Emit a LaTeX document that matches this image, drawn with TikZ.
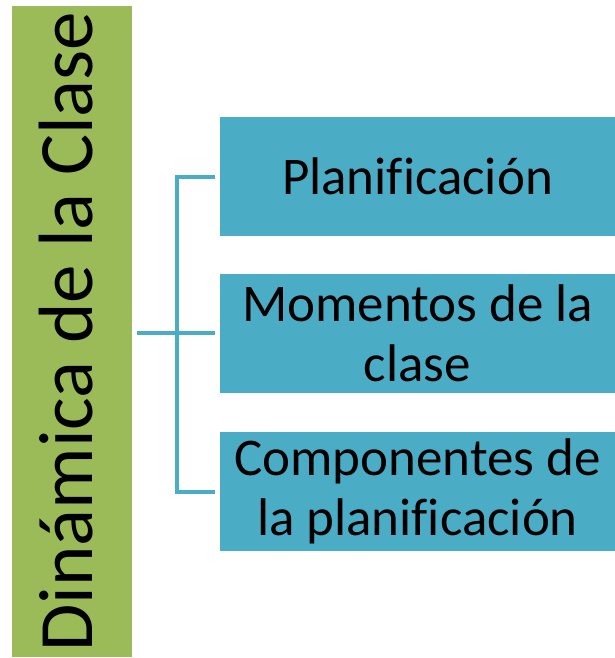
\documentclass[tikz,border=0pt]{standalone}
\usepackage{fontspec}
\setmainfont{Carlito}[Ligatures=NoCommon]
\usepackage{xcolor}
\definecolor{dynGreen}{HTML}{9BBB59}
\definecolor{dynBlue}{HTML}{4BACC6}

\begin{document}
\begin{tikzpicture}[x=1pt, y=-1pt,
        topic/.style={fill=dynGreen, inner sep=0pt, minimum width=651pt, minimum height=120pt, rotate=90, text depth=12pt, font=\fontsize{77}{80}\selectfont},
        item/.style={fill=dynBlue, inner sep=0pt, minimum width=395pt, minimum height=119pt, align=center, font=\fontsize{53}{60}\selectfont},
        link/.style={draw=dynBlue, line width=4pt}]
        \useasboundingbox (0,0) rectangle (615,658);
        \node[topic] (dyn) at (72,331.5) {Dinámica de la Clase};
        \node[item] (plan) at (417.5,176.5) {Planificación};
        \node[item] (mom) at (417.5,333) {Momentos de la\\clase};
        \node[item] (comp) at (417.5,491.5) {Componentes de\\la planificación};
        \draw[link] ([xshift=5pt]dyn.south |- mom.west) -- ([xshift=-5pt]mom.west);
        \draw[link] ([xshift=-5pt]plan.west) -| ([xshift=-43pt]comp.west) -- ([xshift=-5pt]comp.west);
    \end{tikzpicture}
\end{document}
